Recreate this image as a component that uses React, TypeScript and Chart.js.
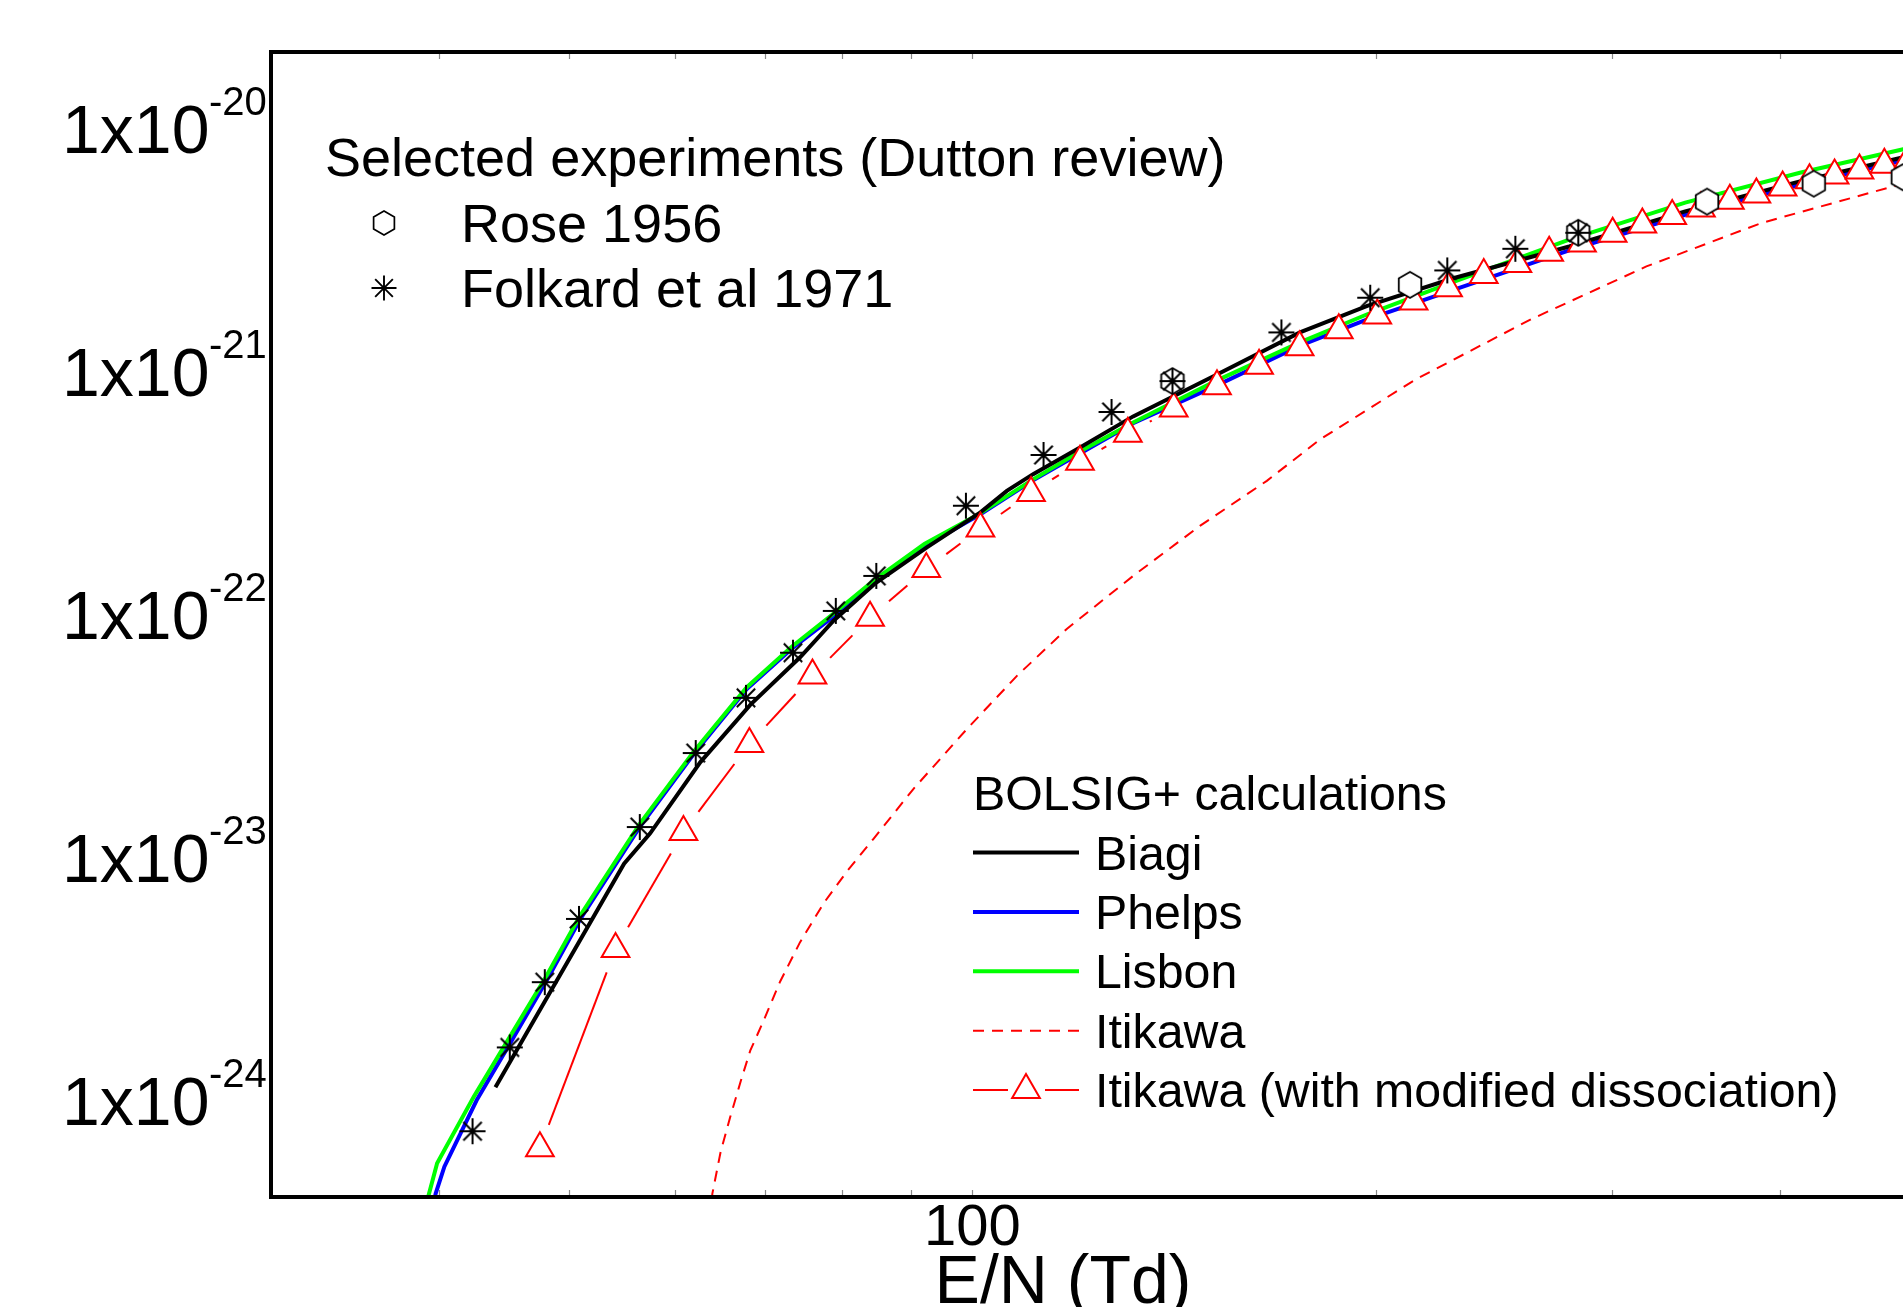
import React, { useEffect, useRef } from 'react';
import { Chart, registerables } from 'chart.js';

Chart.register(...registerables);

// ---------------- data (E/N in Td, coefficient in m^3) ----------------
const ROSE_EN = [141, 212, 283, 353, 424, 494];
const ROSE_ALPHA = [9.08e-22, 2.26e-21, 3.7e-21, 4.97e-21, 5.89e-21, 6.26e-21];

const FOLKARD_EN = [42.4, 45.2, 48.0, 50.9, 56.5, 62.2, 67.8, 73.5, 79.1, 84.8, 98.9, 113, 127, 141, 170, 198, 226, 254, 283];
const FOLKARD_ALPHA = [7.46e-25, 1.65e-24, 3.06e-24, 5.57e-24, 1.33e-23, 2.68e-23, 4.52e-23, 6.93e-23, 1.03e-22, 1.435e-22, 2.79e-22, 4.51e-22, 6.78e-22, 9.08e-22, 1.44e-21, 2.0e-21, 2.59e-21, 3.18e-21, 3.7e-21];

const BIAGI_EN = [44.1, 55.0, 57.5, 62.7, 68.3, 74.4, 78.8, 84.7, 92.5, 101.4, 106.1, 111.0, 120.4, 131.8, 152.2, 175.5, 197.0, 228.7, 278.6, 340.0, 414.0, 500];
const BIAGI_ALPHA = [1.13e-24, 9.4e-24, 1.25e-23, 2.46e-23, 4.23e-23, 6.64e-23, 9.39e-23, 1.34e-22, 1.88e-22, 2.62e-22, 3.21e-22, 3.76e-22, 4.85e-22, 6.5e-22, 9.67e-22, 1.44e-21, 1.85e-21, 2.41e-21, 3.25e-21, 4.53e-21, 6.02e-21, 7.67e-21];

const PHELPS_EN = [39.3, 39.8, 40.4, 42.7, 45.4, 48.2, 51.0, 56.6, 62.1, 67.9, 73.3, 78.9, 84.5, 92.1, 101.4, 111.0, 120.4, 131.8, 152.2, 175.5, 197.0, 228.7, 278.6, 340.0, 414.0, 500];
const PHELPS_ALPHA = [2.98e-25, 4.13e-25, 5.33e-25, 1.0e-24, 1.78e-24, 3.14e-24, 5.54e-24, 1.35e-23, 2.69e-23, 4.92e-23, 7.18e-23, 9.81e-23, 1.34e-22, 1.9e-22, 2.57e-22, 3.55e-22, 4.58e-22, 6.09e-22, 8.72e-22, 1.27e-21, 1.63e-21, 2.16e-21, 3.13e-21, 4.39e-21, 5.83e-21, 7.46e-21];

const LISBON_EN = [38.7, 39.35, 39.9, 42.5, 45.25, 48.1, 50.9, 56.5, 62.0, 67.9, 73.3, 78.9, 84.5, 92.1, 101.4, 111.0, 120.4, 131.8, 152.2, 175.5, 197.0, 228.7, 278.6, 340.0, 414.0, 500];
const LISBON_ALPHA = [2.98e-25, 4.13e-25, 5.51e-25, 1.035e-24, 1.84e-24, 3.22e-24, 5.65e-24, 1.37e-23, 2.72e-23, 5.0e-23, 7.32e-23, 1.01e-22, 1.38e-22, 1.94e-22, 2.6e-22, 3.58e-22, 4.67e-22, 6.14e-22, 9.14e-22, 1.31e-21, 1.71e-21, 2.33e-21, 3.47e-21, 4.92e-21, 6.53e-21, 8.28e-21];

const ITIKAWA_EN = [63.6, 64.0, 64.9, 66.0, 67.2, 68.3, 69.9, 71.9, 74.4, 77.5, 80.7, 84.4, 90.4, 99.1, 108, 117.6, 131.9, 147.9, 165.8, 181.7, 214, 260.9, 318.1, 387.6, 500];
const ITIKAWA_ALPHA = [2.71e-25, 4.13e-25, 6.1e-25, 8.55e-25, 1.2e-24, 1.6e-24, 2.13e-24, 3.08e-24, 4.47e-24, 6.48e-24, 8.79e-24, 1.19e-23, 1.91e-23, 3.37e-23, 5.58e-23, 8.68e-23, 1.44e-22, 2.31e-22, 3.53e-22, 5.23e-22, 9.22e-22, 1.63e-21, 2.69e-21, 4.06e-21, 6.0e-21];

const ITIKAWA_MOD_EN = [47.6, 54.2, 60.9, 68.2, 76.0, 83.9, 92.4, 101.4, 110.6, 120.3, 130.6, 141.3, 152.2, 163.6, 175.4, 187.6, 200.4, 213.3, 226.3, 240.6, 254.9, 269.2, 284.8, 300.2, 315.9, 332.5, 349.3, 367.1, 384.2, 401.9, 420.9, 439.4, 458.6, 478.6, 499];
const ITIKAWA_MOD_ALPHA = [6.35e-25, 4.19e-24, 1.27e-23, 2.92e-23, 5.58e-23, 9.66e-23, 1.53e-22, 2.25e-22, 3.15e-22, 4.23e-22, 5.52e-22, 7.0e-22, 8.65e-22, 1.05e-21, 1.25e-21, 1.47e-21, 1.69e-21, 1.93e-21, 2.19e-21, 2.48e-21, 2.75e-21, 3.06e-21, 3.34e-21, 3.67e-21, 4.0e-21, 4.34e-21, 4.66e-21, 5.01e-21, 5.32e-21, 5.68e-21, 6.08e-21, 6.37e-21, 6.68e-21, 7.05e-21, 7.4e-21];

// axis ranges and ticks
const X_MIN = 30;
const X_MAX = 501;
const Y_MIN = 4.07e-25;
const Y_MAX = 2.05e-20;
const X_MINOR_TICKS = [40, 50, 60, 70, 80, 90, 100, 200, 300, 400];
const X_TICK_LABELS = [100];
const Y_TICK_VALUES = [1e-20, 1e-21, 1e-22, 1e-23, 1e-24];
const Y_TICK_MANTISSA = '1x10';
const Y_TICK_EXPONENTS = ['-20', '-21', '-22', '-23', '-24'];
const X_TITLE = 'E/N (Td)';

const EXP_TITLE = 'Selected experiments (Dutton review)';
const EXP_LABELS = ['Rose 1956', 'Folkard et al 1971'];
const CALC_TITLE = 'BOLSIG+ calculations';
const CALC_LABELS = ['Biagi', 'Phelps', 'Lisbon', 'Itikawa', 'Itikawa (with modified dissociation)'];

// ---------------- layout / style ----------------
const CANVAS_W = 1930;
const CANVAS_H = 1307;
const AREA = { left: 271, top: 52, right: 1911, bottom: 1197 };
const FONT = "'Liberation Sans', Arial, Helvetica, sans-serif";
const BLACK = '#000000';
const BLUE = '#0000ff';
const GREEN = '#00ff00';
const RED = '#ff0000';
const TRI_R = 16;
const HEX_R = 13;
const STAR_R = 13;
const GAP = 25;

const pts = (xs: number[], ys: number[]) => xs.map((x, i) => ({ x, y: ys[i] }));

function drawHex(g: CanvasRenderingContext2D, cx: number, cy: number, r: number, lw: number) {
  g.beginPath();
  for (let k = 0; k < 6; k++) {
    const a = -Math.PI / 2 + (k * Math.PI) / 3;
    const x = cx + r * Math.cos(a);
    const y = cy + r * Math.sin(a);
    if (k === 0) g.moveTo(x, y);
    else g.lineTo(x, y);
  }
  g.closePath();
  g.fillStyle = '#ffffff';
  g.fill();
  g.lineWidth = lw;
  g.strokeStyle = BLACK;
  g.stroke();
}

function drawStar(g: CanvasRenderingContext2D, cx: number, cy: number, r: number, lw: number) {
  g.beginPath();
  for (let k = 0; k < 4; k++) {
    const a = (k * Math.PI) / 4;
    g.moveTo(cx - r * Math.cos(a), cy - r * Math.sin(a));
    g.lineTo(cx + r * Math.cos(a), cy + r * Math.sin(a));
  }
  g.lineWidth = lw;
  g.strokeStyle = BLACK;
  g.stroke();
}

function markerCanvas(r: number, lw: number, draw: (g: CanvasRenderingContext2D, cx: number, cy: number, r: number, lw: number) => void) {
  const size = Math.ceil(2 * r + 2 * lw + 2);
  const c = document.createElement('canvas');
  c.width = size;
  c.height = size;
  const g = c.getContext('2d')!;
  draw(g, size / 2, size / 2, r, lw);
  return c;
}

function drawTri(g: CanvasRenderingContext2D, cx: number, cy: number, r: number, lw: number) {
  g.beginPath();
  let rad = 0;
  for (let k = 0; k < 3; k++) {
    const x = cx + Math.sin(rad) * r;
    const y = cy - Math.cos(rad) * r;
    if (k === 0) g.moveTo(x, y);
    else g.lineTo(x, y);
    rad += (2 * Math.PI) / 3;
  }
  g.closePath();
  g.fillStyle = '#ffffff';
  g.fill();
  g.lineWidth = lw;
  g.strokeStyle = RED;
  g.stroke();
}

const decor = {
  id: 'decor',
  beforeDraw(chart: any) {
    const { ctx } = chart;
    ctx.save();
    ctx.fillStyle = '#ffffff';
    ctx.fillRect(0, 0, chart.width, chart.height);
    ctx.restore();
  },
  afterDraw(chart: any) {
    const { ctx, chartArea: a, scales } = chart;
    const xs = scales.x;
    const ys = scales.y;
    ctx.save();

    // inner tick marks
    ctx.strokeStyle = '#888888';
    ctx.lineWidth = 1.2;
    for (const v of X_MINOR_TICKS) {
      const px = Math.round(xs.getPixelForValue(v)) + 0.5;
      ctx.beginPath();
      ctx.moveTo(px, a.bottom - 2);
      ctx.lineTo(px, a.bottom - 7);
      ctx.moveTo(px, a.top + 2);
      ctx.lineTo(px, a.top + 7);
      ctx.stroke();
    }

    // frame
    ctx.strokeStyle = BLACK;
    ctx.lineWidth = 4;
    ctx.strokeRect(a.left, a.top, a.right - a.left, a.bottom - a.top);

    ctx.fillStyle = BLACK;
    ctx.textBaseline = 'alphabetic';

    // y tick labels
    Y_TICK_VALUES.forEach((v, i) => {
      const py = ys.getPixelForValue(v);
      ctx.textAlign = 'left';
      ctx.font = `68px ${FONT}`;
      ctx.fillText(Y_TICK_MANTISSA, 62, py + 25);
      ctx.font = `40px ${FONT}`;
      ctx.fillText(Y_TICK_EXPONENTS[i], 209, py - 13);
    });

    // x tick labels
    ctx.textAlign = 'center';
    ctx.font = `58px ${FONT}`;
    for (const v of X_TICK_LABELS) {
      ctx.fillText(String(v), xs.getPixelForValue(v), 1245);
    }
    // x title
    ctx.font = `68px ${FONT}`;
    ctx.fillText(X_TITLE, 1063, 1303);

    // experiments legend
    ctx.textAlign = 'left';
    ctx.font = `54px ${FONT}`;
    ctx.fillText(EXP_TITLE, 325, 176);
    ctx.fillText(EXP_LABELS[0], 461, 242);
    ctx.fillText(EXP_LABELS[1], 461, 307);
    drawHex(ctx, 384, 223, 12, 1.7);
    drawStar(ctx, 384, 288, 12.5, 1.9);

    // calculations legend
    ctx.fillStyle = BLACK;
    ctx.font = `48.3px ${FONT}`;
    ctx.fillText(CALC_TITLE, 973, 810);
    const base0 = 869.5;
    const step = 59.4;
    const lineStyles = [
      { color: BLACK, w: 4, dash: [] as number[] },
      { color: BLUE, w: 4, dash: [] as number[] },
      { color: GREEN, w: 4, dash: [] as number[] },
      { color: RED, w: 2, dash: [11, 8] },
    ];
    CALC_LABELS.forEach((lab, i) => {
      const bl = base0 + i * step;
      const ly = bl - 17;
      ctx.fillStyle = BLACK;
      ctx.fillText(lab, 1095, bl);
      if (i < 4) {
        const s = lineStyles[i];
        ctx.beginPath();
        ctx.setLineDash(s.dash);
        ctx.strokeStyle = s.color;
        ctx.lineWidth = s.w;
        ctx.moveTo(973, ly);
        ctx.lineTo(1079, ly);
        ctx.stroke();
        ctx.setLineDash([]);
      } else {
        ctx.beginPath();
        ctx.strokeStyle = RED;
        ctx.lineWidth = 2;
        ctx.moveTo(973, ly);
        ctx.lineTo(1008, ly);
        ctx.moveTo(1045, ly);
        ctx.lineTo(1079, ly);
        ctx.stroke();
        drawTri(ctx, 1026, ly, TRI_R, 2);
      }
    });

    ctx.restore();
  },
};

export default function App() {
  const ref = useRef<HTMLCanvasElement>(null);

  useEffect(() => {
    const canvas = ref.current;
    if (!canvas) return;
    const hex = markerCanvas(HEX_R, 1.8, drawHex);
    const star = markerCanvas(STAR_R, 2, drawStar);

    const chart = new Chart(canvas, {
      type: 'line',
      data: {
        datasets: [
          {
            label: EXP_LABELS[1],
            data: pts(FOLKARD_EN, FOLKARD_ALPHA),
            showLine: false,
            pointStyle: star as any,
            pointRadius: STAR_R,
            order: 0,
          },
          {
            label: EXP_LABELS[0],
            data: pts(ROSE_EN, ROSE_ALPHA),
            showLine: false,
            pointStyle: hex as any,
            pointRadius: HEX_R,
            order: 1,
          },
          {
            label: CALC_LABELS[4],
            data: pts(ITIKAWA_MOD_EN, ITIKAWA_MOD_ALPHA),
            borderColor: RED,
            borderWidth: 2,
            pointStyle: 'triangle',
            pointRadius: TRI_R,
            pointBorderWidth: 2,
            pointBorderColor: RED,
            pointBackgroundColor: '#ffffff',
            segment: {
              borderDash: (c: any) => {
                const p0 = c.p0;
                const p1 = c.p1;
                const d = Math.hypot(p1.x - p0.x, p1.y - p0.y);
                if (d <= 2 * GAP) return [0, d + 100];
                return [0, GAP, d - 2 * GAP, GAP + 100];
              },
            },
            order: 2,
          } as any,
          {
            label: CALC_LABELS[0],
            data: pts(BIAGI_EN, BIAGI_ALPHA),
            borderColor: BLACK,
            borderWidth: 4,
            pointRadius: 0,
            order: 3,
          },
          {
            label: CALC_LABELS[2],
            data: pts(LISBON_EN, LISBON_ALPHA),
            borderColor: GREEN,
            borderWidth: 4,
            pointRadius: 0,
            order: 4,
          },
          {
            label: CALC_LABELS[1],
            data: pts(PHELPS_EN, PHELPS_ALPHA),
            borderColor: BLUE,
            borderWidth: 4,
            pointRadius: 0,
            order: 5,
          },
          {
            label: CALC_LABELS[3],
            data: pts(ITIKAWA_EN, ITIKAWA_ALPHA),
            borderColor: RED,
            borderWidth: 2,
            borderDash: [11, 8],
            pointRadius: 0,
            order: 6,
          },
        ],
      },
      options: {
        responsive: false,
        animation: false,
        events: [],
        layout: {
          padding: {
            left: AREA.left,
            top: AREA.top,
            right: CANVAS_W - AREA.right,
            bottom: CANVAS_H - AREA.bottom,
          },
        },
        scales: {
          x: { type: 'logarithmic', min: X_MIN, max: X_MAX, display: false },
          y: { type: 'logarithmic', min: Y_MIN, max: Y_MAX, display: false },
        },
        plugins: {
          legend: { display: false },
          tooltip: { enabled: false },
        },
      },
      plugins: [decor],
    });

    return () => chart.destroy();
  }, []);

  return (
    <div
      style={{
        position: 'fixed',
        left: 0,
        top: 0,
        width: 1903,
        height: 1307,
        overflow: 'hidden',
        background: '#ffffff',
      }}
    >
      <canvas ref={ref} width={CANVAS_W} height={CANVAS_H} style={{ display: 'block' }} />
    </div>
  );
}
